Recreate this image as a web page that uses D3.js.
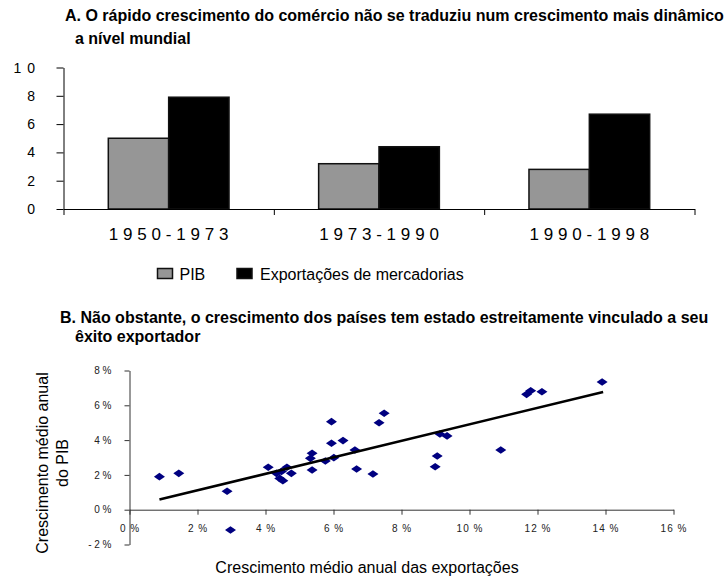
<!DOCTYPE html>
<html>
<head>
<meta charset="utf-8">
<script src="https://cdn.jsdelivr.net/npm/d3@7"></script>
<style>
  body { margin: 0; background: #fff; }
  svg { display: block; font-family: Arial, "Liberation Sans", sans-serif; }
  .title { font-weight: bold; font-size: 16px; fill: #000; }
</style>
</head>
<body>
<svg id="screen" width="728" height="579"></svg>
<script>
// panel A - world growth by period
const periods = ["1950-1973", "1973-1990", "1990-1998"];
const gdpGrowth = [5.0, 3.2, 2.8];
const exportGrowth = [7.9, 4.4, 6.7];
const seriesNames = ["PIB", "Exportações de mercadorias"];
const seriesColors = ["#969696", "#000000"];
const yTicksA = [0, 2, 4, 6, 8, 10];

// panel B - countries, average annual growth (%)
const countryExports = [0.88, 1.45, 2.87, 2.97, 4.08, 4.32, 4.42, 4.51, 4.63, 4.76, 4.47,
  5.32, 5.37, 5.37, 5.76, 5.94, 5.94, 6.01, 6.28, 6.63, 6.68, 7.16, 7.34, 7.49,
  9.13, 9.34, 9.05, 8.99, 10.92, 11.68, 11.80, 12.13, 13.90];
const countryGdp = [1.90, 2.09, 1.06, -1.17, 2.44, 2.09, 1.80, 1.67, 2.44, 2.09, 2.20,
  2.95, 3.24, 2.28, 2.80, 5.06, 3.82, 2.99, 3.97, 3.43, 2.34, 2.05, 5.00, 5.54,
  4.35, 4.24, 3.09, 2.47, 3.43, 6.63, 6.84, 6.78, 7.34];
const trendExports = [0.88, 13.93];
const trendGdp = [0.58, 6.77];
const xTicksB = [0, 2, 4, 6, 8, 10, 12, 14, 16];
const yTicksB = [-2, 0, 2, 4, 6, 8];

const svg = d3.select("#screen");

// ----------------- titles ---------------------------------
const addTitle = (x1, y1, text1, x2, y2, text2) => {
  svg.append("text").attr("class", "title").attr("x", x1).attr("y", y1).text(text1);
  svg.append("text").attr("class", "title").attr("x", x2).attr("y", y2).text(text2);
};
addTitle(65, 21, "A. O rápido crescimento do comércio não se traduziu num crescimento mais dinâmico",
         75, 44, "a nível mundial");
addTitle(60, 323, "B. Não obstante, o crescimento dos países tem estado estreitamente vinculado a seu",
         75, 342, "êxito exportador");

// ----------------- panel A: bars ---------------------------------
const x0 = d3.scaleBand().domain(periods).range([63.5, 694.5]);
const x1 = d3.scaleBand().domain(seriesNames)
  .range([x0.bandwidth() * 0.213, x0.bandwidth() * 0.787]);
const yA = d3.scaleLinear().domain([0, 10]).range([209, 67.5]);

const rows = periods.map((p, i) => ({ period: p, values: [gdpGrowth[i], exportGrowth[i]] }));

svg.append("g")
  .selectAll("g")
  .data(rows)
  .join("g")
    .attr("transform", d => `translate(${x0(d.period)},0)`)
  .selectAll("rect")
  .data(d => d.values.map((v, i) => ({ name: seriesNames[i], value: v, color: seriesColors[i] })))
  .join("rect")
    .attr("x", d => x1(d.name))
    .attr("y", d => yA(d.value))
    .attr("width", x1.bandwidth())
    .attr("height", d => yA(0) - yA(d.value))
    .attr("fill", d => d.color)
    .attr("stroke", "#111")
    .attr("stroke-width", 1.5);

// y axis
const yAxisA = svg.append("g")
  .attr("transform", `translate(${x0.range()[0]},0)`)
  .call(d3.axisLeft(yA).tickValues(yTicksA).tickSize(7).tickSizeOuter(0).tickFormat(""));
yAxisA.select(".domain").attr("stroke", "#000");
yAxisA.selectAll(".tick line").attr("stroke", "#000");
svg.append("g")
  .selectAll("text")
  .data(yTicksA)
  .join("text")
    .attr("x", 41)
    .attr("y", d => yA(d))
    .attr("dy", "0.36em")
    .attr("text-anchor", "end")
    .attr("font-size", 14)
    .attr("letter-spacing", "6px")
    .text(d => d);

// x axis with ticks on the band edges
const edges = periods.map(p => x0(p)).concat([x0.range()[1]]);
const xEdge = d3.scaleLinear().domain([x0.range()[0], x0.range()[1]]).range(x0.range());
const xAxisA = svg.append("g")
  .attr("transform", `translate(0,${yA(0)})`)
  .call(d3.axisBottom(xEdge).tickValues(edges).tickSize(6).tickSizeOuter(0).tickFormat(""));
xAxisA.select(".domain").attr("stroke", "#000");
xAxisA.selectAll(".tick line").attr("stroke", "#000");

svg.append("g")
  .selectAll("text")
  .data(periods)
  .join("text")
    .attr("x", d => x0(d) + x0.bandwidth() / 2 + 2.4)
    .attr("y", 240)
    .attr("text-anchor", "middle")
    .attr("font-size", 17)
    .attr("letter-spacing", "4.8px")
    .text(d => d);

// legend
const legendX = [157.5, 237];
const legend = svg.append("g")
  .selectAll("g")
  .data(seriesNames)
  .join("g")
    .attr("transform", (d, i) => `translate(${legendX[i]},268.5)`);
legend.append("rect")
  .attr("width", 15)
  .attr("height", 10)
  .attr("fill", (d, i) => seriesColors[i])
  .attr("stroke", "#111")
  .attr("stroke-width", 1.5);
legend.append("text")
  .attr("x", (d, i) => i ? 23 : 22)
  .attr("y", 11.5)
  .attr("font-size", 16)
  .text(d => d);

// ----------------- panel B: scatter ---------------------------------
const xB = d3.scaleLinear().domain([0, 16]).range([129.5, 673.5]);
const yB = d3.scaleLinear().domain([-2, 8]).range([544.5, 370.5]);

const xAxisB = svg.append("g")
  .attr("transform", `translate(0,${yB(0)})`)
  .call(d3.axisBottom(xB).tickValues(xTicksB).tickSize(5).tickSizeOuter(0).tickPadding(10)
    .tickFormat(d => `${d} %`));
xAxisB.select(".domain").attr("stroke", "#333");
xAxisB.selectAll(".tick line").attr("stroke", "#333");
xAxisB.selectAll(".tick text")
  .attr("font-size", 10)
  .attr("font-family", "Arial, 'Liberation Sans', sans-serif")
  .attr("letter-spacing", "1px")
  .attr("fill", "#222");

const yAxisB = svg.append("g")
  .attr("transform", `translate(${xB(0)},0)`)
  .call(d3.axisLeft(yB).tickValues(yTicksB).tickSize(5).tickSizeOuter(0).tickPadding(13)
    .tickFormat(d => d < 0 ? `- ${-d} %` : `${d} %`));
yAxisB.select(".domain").attr("stroke", "#333");
yAxisB.selectAll(".tick line").attr("stroke", "#333");
yAxisB.selectAll(".tick text")
  .attr("font-size", 10)
  .attr("font-family", "Arial, 'Liberation Sans', sans-serif")
  .attr("fill", "#222");

// points
svg.append("g")
  .selectAll("path")
  .data(countryExports.map((x, i) => [x, countryGdp[i]]))
  .join("path")
    .attr("d", "M-5.5,0L0,-3.8L5.5,0L0,3.8Z")
    .attr("transform", d => `translate(${xB(d[0])},${yB(d[1])})`)
    .attr("fill", "#000080");

// trend line
svg.append("path")
  .datum(trendExports.map((x, i) => [x, trendGdp[i]]))
  .attr("fill", "none")
  .attr("stroke", "#000")
  .attr("stroke-width", 2.6)
  .attr("d", d3.line().x(d => xB(d[0])).y(d => yB(d[1])));

// axis titles
const yTitle = svg.append("text")
  .attr("transform", "translate(0,463) rotate(-90)")
  .attr("text-anchor", "middle")
  .attr("font-size", 16);
yTitle.append("tspan").attr("x", 0).attr("y", 47.5).text("Crescimento médio anual");
yTitle.append("tspan").attr("x", 0).attr("y", 68).text("do PIB");

svg.append("text")
  .attr("x", 367)
  .attr("y", 573)
  .attr("text-anchor", "middle")
  .attr("font-size", 16)
  .text("Crescimento médio anual das exportações");
</script>
</body>
</html>
